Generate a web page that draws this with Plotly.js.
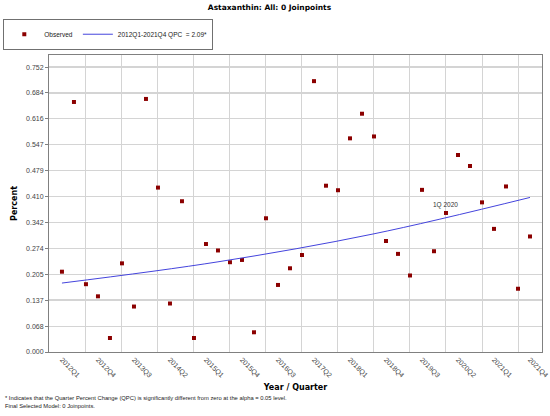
<!DOCTYPE html>
<html>
<head>
<meta charset="utf-8">
<script src="https://cdn.plot.ly/plotly-3.0.1.min.js"></script>
<style>
  html, body { margin: 0; padding: 0; background: #fff; }
  #chart { width: 550px; height: 416px; }
</style>
</head>
<body>
<div id="chart"></div>
<script>
// quarters 2012Q1 .. 2021Q4
const quarters = [
  '2012Q1','2012Q2','2012Q3','2012Q4','2013Q1','2013Q2','2013Q3','2013Q4',
  '2014Q1','2014Q2','2014Q3','2014Q4','2015Q1','2015Q2','2015Q3','2015Q4',
  '2016Q1','2016Q2','2016Q3','2016Q4','2017Q1','2017Q2','2017Q3','2017Q4',
  '2018Q1','2018Q2','2018Q3','2018Q4','2019Q1','2019Q2','2019Q3','2019Q4',
  '2020Q1','2020Q2','2020Q3','2020Q4','2021Q1','2021Q2','2021Q3','2021Q4'
];

// observed percent
const observed = [
  0.212, 0.660, 0.179, 0.147, 0.037, 0.234, 0.120, 0.668, 0.434, 0.128,
  0.398, 0.037, 0.285, 0.268, 0.237, 0.243, 0.052, 0.353, 0.177, 0.221,
  0.256, 0.715, 0.439, 0.427, 0.564, 0.629, 0.569, 0.293, 0.259, 0.202,
  0.428, 0.266, 0.367, 0.520, 0.491, 0.395, 0.325, 0.437, 0.167, 0.305
];

// fitted curve (read at a few quarters)
const fitQuarters = ['2012Q1', '2015Q2', '2018Q3', '2021Q4'];
const fitValues = [0.182, 0.238, 0.312, 0.408];

const yTicks = ['0.000','0.068','0.137','0.205','0.274','0.342','0.410','0.479','0.547','0.616','0.684','0.752'];

const labelQuarters = ['2012Q1','2012Q4','2013Q3','2014Q2','2015Q1','2015Q4','2016Q3','2017Q2','2018Q1','2018Q4','2019Q3','2020Q2','2021Q1','2021Q4'];
const gridQuarters = ['2012Q3','2013Q2','2014Q1','2014Q4','2015Q3','2016Q2','2017Q1','2017Q4','2018Q3','2019Q2','2020Q1','2020Q4','2021Q3'];

const idx = q => quarters.indexOf(q);
const xs = quarters.map((q, i) => i);

const darkRed = '#8b0000';
const blue = '#4444dd';

const traces = [
  {
    x: xs, y: observed, name: 'Observed', type: 'scatter', mode: 'markers',
    marker: {symbol: 'square', size: 4, color: darkRed}
  },
  {
    x: fitQuarters.map(idx), y: fitValues, name: '2012Q1-2021Q4 QPC  = 2.09*',
    type: 'scatter', mode: 'lines',
    line: {color: blue, width: 1, shape: 'spline'}
  }
];

const tickFont = {family: 'Liberation Sans, Arial, sans-serif', size: 7, color: '#444'};
const boldFont = {family: 'DejaVu Sans, Verdana, sans-serif', size: 8, color: '#000', weight: 'bold'};

const layout = {
  width: 550, height: 416,
  margin: {l: 49, r: 8, t: 55, b: 64},
  paper_bgcolor: '#fff', plot_bgcolor: '#fff',
  showlegend: true,
  title: {text: '<b>Astaxanthin: All: 0 Joinpoints</b>', x: 0.49, xanchor: 'center', y: 0.982, yanchor: 'middle',
          font: {family: 'DejaVu Sans, Verdana, sans-serif', size: 7.5, color: '#000'}},
  legend: {
    orientation: 'h', xref: 'container', yref: 'container', x: 0.006, y: 0.955,
    xanchor: 'left', yanchor: 'top', bordercolor: '#707070', borderwidth: 1,
    font: {family: 'Liberation Sans, Arial, sans-serif', size: 6.5, color: '#222'},
    itemwidth: 30, tracegroupgap: 0
  },
  xaxis: {
    range: [-1.08, 40], tickmode: 'array',
    tickvals: labelQuarters.map(idx), ticktext: labelQuarters,
    tickangle: 45, tickfont: tickFont, ticks: '', showgrid: false, zeroline: false,
    showline: true, linecolor: '#808080', linewidth: 1, mirror: true,
    minor: {tickmode: 'array', tickvals: gridQuarters.map(idx), showgrid: true, gridcolor: '#d4d4d4', gridwidth: 1, ticks: ''},
    title: {text: '<b>Year / Quarter</b>', font: boldFont, standoff: 5}
  },
  yaxis: {
    range: [0, 0.784], tickmode: 'array',
    tickvals: yTicks.map(Number), ticktext: yTicks,
    tickfont: tickFont, ticks: 'outside', ticklen: 3, tickcolor: '#808080',
    showgrid: true, gridcolor: '#d4d4d4', gridwidth: 1.3, zeroline: false,
    showline: true, linecolor: '#808080', linewidth: 1, mirror: true,
    title: {text: '<b>Percent</b>', font: boldFont, standoff: 7}
  },
  annotations: [
    {x: idx('2020Q1'), y: observed[idx('2020Q1')], xref: 'x', yref: 'y', text: '1Q 2020',
     showarrow: false, yanchor: 'bottom', yshift: 2,
     font: {family: 'Liberation Sans, Arial, sans-serif', size: 6.5, color: '#333'}},
    {xref: 'paper', yref: 'paper', x: -0.093, y: -0.155, xanchor: 'left', yanchor: 'middle', showarrow: false,
     text: '* Indicates that the Quarter Percent Change (QPC) is significantly different from zero at the alpha = 0.05 level.',
     font: {family: 'Liberation Sans, Arial, sans-serif', size: 5.8, color: '#222'}},
    {xref: 'paper', yref: 'paper', x: -0.093, y: -0.182, xanchor: 'left', yanchor: 'middle', showarrow: false,
     text: 'Final Selected Model: 0 Joinpoints.',
     font: {family: 'Liberation Sans, Arial, sans-serif', size: 5.8, color: '#222'}}
  ]
};

Plotly.newPlot(document.getElementById('chart'), traces, layout, {displayModeBar: false, staticPlot: true});
</script>
</body>
</html>
